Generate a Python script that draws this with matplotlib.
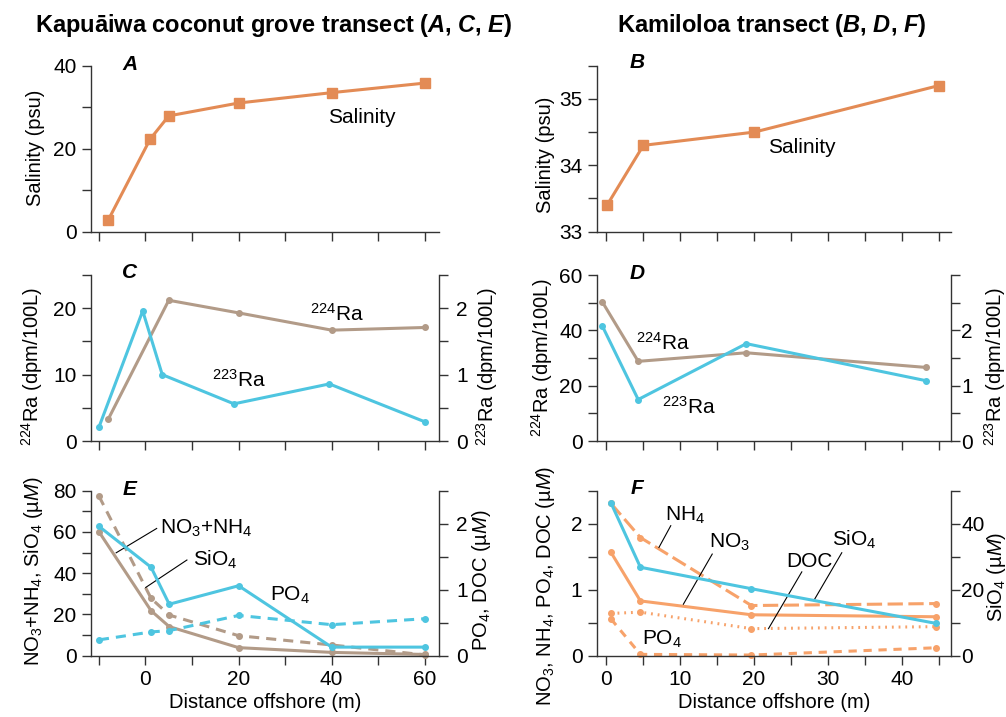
import matplotlib
matplotlib.use('Agg')
import matplotlib.pyplot as plt
from matplotlib.ticker import FixedLocator, NullFormatter

plt.rcParams['font.family'] = ['Liberation Sans', 'DejaVu Sans']
plt.rcParams['mathtext.fontset'] = 'custom'
plt.rcParams['mathtext.rm'] = 'Liberation Sans'
plt.rcParams['mathtext.it'] = 'Liberation Sans:italic'
plt.rcParams['mathtext.bf'] = 'Liberation Sans:bold'
plt.rcParams['mathtext.bfit'] = 'Liberation Sans:italic:bold'
plt.rcParams['mathtext.default'] = 'regular'

# --- data ---
# A: Kapuaiwa salinity
sal_a_x = [-8, 1, 5, 20, 40, 60]
sal_a = [2.8, 22.3, 27.9, 31.0, 33.5, 35.8]
# B: Kamiloloa salinity
sal_b_x = [0.2, 5.1, 20.1, 45.0]
sal_b = [33.4, 34.3, 34.5, 35.2]
# C: radium, Kapuaiwa
ra224_c_x = [-8, 5, 20, 40, 60]
ra224_c = [3.3, 21.2, 19.3, 16.7, 17.1]
ra223_c_x = [-10, -0.6, 3.6, 19, 39.5, 60]
ra223_c = [0.21, 1.96, 1.0, 0.56, 0.86, 0.29]
# D: radium, Kamiloloa
ra_d_x = [-0.45, 4.4, 19.0, 43.3]
ra224_d = [50.3, 28.8, 31.9, 26.6]
ra223_d = [2.08, 0.75, 1.76, 1.09]
# E: nutrients, Kapuaiwa
nut_e_x = [-10, 1.2, 5.1, 20, 40, 60]
no3nh4_e = [60.1, 21.8, 14.1, 3.9, 1.6, 0.6]
sio4_e = [77.4, 27.8, 19.7, 9.7, 5.2, 0.4]
po4_e = [1.96, 1.34, 0.78, 1.06, 0.13, 0.13]
doc_e = [0.24, 0.36, 0.38, 0.61, 0.47, 0.56]
# F: nutrients, Kamiloloa
nut_f_x = [0.7, 4.7, 19.7, 44.6]
sio4_f = [46.4, 26.8, 20.3, 9.8]
nh4_f = [2.31, 1.79, 0.76, 0.79]
no3_f = [1.57, 0.83, 0.62, 0.59]
doc_f = [0.64, 0.66, 0.41, 0.44]
po4_f = [0.56, 0.02, 0.01, 0.12]

ORANGE = '#E38B55'
TAN = '#B29B88'
CYAN = '#4EC5E0'
PEACH = '#F7A26A'
INK = '#333333'
FS = 15      # tick labels and in-plot labels
LFS = 14.5   # axis titles
LW = 2.2

fig = plt.figure(figsize=(10.06, 7.17), dpi=100)

LEFT = (0.0905, 0.3456)
RIGHT = (0.5934, 0.3519)
ROWS = [(0.6769, 0.2315), (0.3849, 0.2315), (0.0855, 0.2301)]

XL = dict(lim=(-11.7, 63.0), maj=[0, 20, 40, 60], mn=[-10, 10, 30, 50])
XR = dict(lim=(-1.17, 46.65), maj=[0, 10, 20, 30, 40], mn=[5, 15, 25, 35, 45])


def setup(ax, xs, ylim, ymaj, ymin, xlabels=False, side='left', pad=4):
    ax.set_xlim(xs['lim'])
    ax.set_ylim(ylim)
    if side == 'left':
        # twin axes share the x tickers, so only set them once
        ax.xaxis.set_major_locator(FixedLocator(xs['maj']))
        ax.xaxis.set_minor_locator(FixedLocator(xs['mn']))
        if not xlabels:
            ax.xaxis.set_major_formatter(NullFormatter())
    ax.yaxis.set_major_locator(FixedLocator(ymaj))
    ax.yaxis.set_minor_locator(FixedLocator(ymin))
    for s in ['top', 'right', 'left', 'bottom']:
        ax.spines[s].set_color(INK)
        ax.spines[s].set_linewidth(1.0)
    ax.spines['top'].set_visible(False)
    if side == 'left':
        ax.spines['right'].set_visible(False)
    else:
        ax.spines['left'].set_visible(False)
        ax.spines['bottom'].set_visible(False)
    ax.tick_params(which='both', direction='out', length=6.5, width=1.0,
                   color=INK, labelsize=FS, pad=pad)
    ax.patch.set_visible(False)


def panel(col, row):
    x0, w = col
    b, h = ROWS[row]
    return fig.add_axes([x0, b, w, h])


def letter(ax, s, x, y=1.01):
    ax.text(x, y, s, transform=ax.transAxes, fontsize=15, fontweight='bold',
            fontstyle='italic', ha='center', va='center')


def lead(ax, x1, y1, x2, y2):
    ax.plot([x1, x2], [y1, y2], color='black', lw=0.8)


# ---------- A ----------
axA = panel(LEFT, 0)
setup(axA, XL, (0, 40), [0, 20, 40], [10, 30])
axA.plot(sal_a_x, sal_a, color=ORANGE, lw=LW, marker='s', ms=6.5, clip_on=False)
axA.text(39.2, 27.5, 'Salinity', fontsize=FS, va='center')
axA.set_ylabel('Salinity (psu)', fontsize=LFS)
axA.yaxis.set_label_coords(-0.131, 0.504)
letter(axA, 'A', 0.112)

# ---------- B ----------
axB = panel(RIGHT, 0)
setup(axB, XR, (33, 35.5), [33, 34, 35], [33.5, 34.5, 35.5])
axB.plot(sal_b_x, sal_b, color=ORANGE, lw=LW, marker='s', ms=6.5, clip_on=False)
axB.text(22.0, 34.27, 'Salinity', fontsize=FS, va='center')
axB.set_ylabel('Salinity (psu)', fontsize=LFS)
axB.yaxis.set_label_coords(-0.118, 0.46)
letter(axB, 'B', 0.113, 1.02)

# ---------- C ----------
axC = panel(LEFT, 1)
setup(axC, XL, (0, 25), [0, 10, 20], [5, 15, 25])
axC.plot(ra224_c_x, ra224_c, color=TAN, lw=LW, marker='o', ms=4, clip_on=False)
axC.set_ylabel('$^{224}$Ra (dpm/100L)', fontsize=LFS)
axC.yaxis.set_label_coords(-0.131, 0.45)
axC2 = axC.twinx()
setup(axC2, XL, (0, 2.5), [0, 1, 2], [0.5, 1.5, 2.5], side='right', pad=6)
axC2.plot(ra223_c_x, ra223_c, color=CYAN, lw=LW, marker='o', ms=4, clip_on=False)
axC2.set_ylabel('$^{223}$Ra (dpm/100L)', fontsize=LFS)
axC2.yaxis.set_label_coords(1.103, 0.45)
axC.text(35.4, 18.1, '$^{224}$Ra', fontsize=FS, va='baseline')
axC.text(14.3, 8.1, '$^{223}$Ra', fontsize=FS, va='baseline')
letter(axC, 'C', 0.112, 1.018)

# ---------- D ----------
axD = panel(RIGHT, 1)
setup(axD, XR, (0, 60), [0, 20, 40, 60], [10, 30, 50])
axD.plot(ra_d_x, ra224_d, color=TAN, lw=LW, marker='o', ms=4, clip_on=False)
axD.set_ylabel('$^{224}$Ra (dpm/100L)', fontsize=LFS)
axD.yaxis.set_label_coords(-0.118, 0.506)
axD2 = axD.twinx()
setup(axD2, XR, (0, 3), [0, 1, 2], [0.5, 1.5, 2.5, 3.0], side='right', pad=1)
axD2.plot(ra_d_x, ra223_d, color=CYAN, lw=LW, marker='o', ms=4, clip_on=False)
axD2.set_ylabel('$^{223}$Ra (dpm/100L)', fontsize=LFS)
axD2.yaxis.set_label_coords(1.088, 0.45)
axD.text(4.1, 32.8, '$^{224}$Ra', fontsize=FS, va='baseline')
axD.text(7.6, 10.0, '$^{223}$Ra', fontsize=FS, va='baseline')
letter(axD, 'D', 0.113, 1.012)

# ---------- E ----------
axE = panel(LEFT, 2)
setup(axE, XL, (0, 80), [0, 20, 40, 60, 80], [10, 30, 50, 70], xlabels=True)
axE.plot(nut_e_x, no3nh4_e, color=TAN, lw=LW, marker='o', ms=4, clip_on=False)
axE.plot(nut_e_x, sio4_e, color=TAN, lw=LW, marker='o', ms=4, clip_on=False,
         dashes=(3.3, 2.3))
axE.set_ylabel('NO$_3$+NH$_4$, SiO$_4$ (µ$\\mathit{M}$)', fontsize=LFS)
axE.yaxis.set_label_coords(-0.131, 0.509)
axE.set_xlabel('Distance offshore (m)', fontsize=LFS, labelpad=3)
axE2 = axE.twinx()
setup(axE2, XL, (0, 2.5), [0, 1, 2], [0.5, 1.5, 2.5], side='right', pad=6)
axE2.plot(nut_e_x, po4_e, color=CYAN, lw=LW, marker='o', ms=4, clip_on=False)
axE2.plot(nut_e_x, doc_e, color=CYAN, lw=LW, marker='o', ms=4, clip_on=False,
          dashes=(3.3, 2.3))
axE2.set_ylabel('PO$_4$, DOC (µ$\\mathit{M}$)', fontsize=LFS)
axE2.yaxis.set_label_coords(1.089, 0.459)
axE.text(3.1, 61.7, 'NO$_3$+NH$_4$', fontsize=FS, va='center')
lead(axE, 2.4, 61.7, -6.3, 49.9)
axE.text(10.2, 46.4, 'SiO$_4$', fontsize=FS, va='center')
lead(axE, 8.9, 46.4, 0.05, 33.1)
axE.text(26.8, 29.4, 'PO$_4$', fontsize=FS, va='center')
letter(axE, 'E', 0.112, 1.01)

# ---------- F ----------
axF = panel(RIGHT, 2)
setup(axF, XR, (0, 2.5), [0, 1, 2], [0.5, 1.5, 2.5], xlabels=True)
axF.plot(nut_f_x, nh4_f, color=PEACH, lw=LW, marker='o', ms=4, clip_on=False,
         dashes=(5, 1.8))
axF.plot(nut_f_x, no3_f, color=PEACH, lw=LW, marker='o', ms=4, clip_on=False)
axF.plot(nut_f_x, doc_f, color=PEACH, lw=LW, marker='o', ms=4, clip_on=False,
         dashes=(0.6, 1.6))
axF.plot(nut_f_x, po4_f, color=PEACH, lw=LW, marker='o', ms=4, clip_on=False,
         dashes=(2.7, 2.2))
axF.set_ylabel('NO$_3$, NH$_4$, PO$_4$, DOC (µ$\\mathit{M}$)', fontsize=LFS)
axF.yaxis.set_label_coords(-0.112, 0.424)
axF.set_xlabel('Distance offshore (m)', fontsize=LFS, labelpad=3)
axF2 = axF.twinx()
setup(axF2, XR, (0, 50), [0, 20, 40], [10, 30, 50], side='right', pad=1)
axF2.plot(nut_f_x, sio4_f, color=CYAN, lw=LW, marker='o', ms=4, clip_on=False)
axF2.set_ylabel('SiO$_4$ (µ$\\mathit{M}$)', fontsize=LFS)
axF2.yaxis.set_label_coords(1.095, 0.48)
axF.text(8.0, 2.05, 'NH$_4$', fontsize=FS, va='baseline')
lead(axF, 8.8, 1.97, 7.2, 1.64)
axF.text(14.0, 1.64, 'NO$_3$', fontsize=FS, va='baseline')
lead(axF, 14.4, 1.54, 10.5, 0.78)
axF.text(24.4, 1.35, 'DOC', fontsize=FS, va='baseline')
lead(axF, 26.5, 1.27, 22.0, 0.41)
axF.text(30.6, 1.66, 'SiO$_4$', fontsize=FS, va='baseline')
lead(axF, 31.9, 1.56, 28.2, 0.85)
axF.text(4.9, 0.17, 'PO$_4$', fontsize=FS, va='baseline')
letter(axF, 'F', 0.113, 1.016)

# ---------- column titles ----------
fig.text(0.272, 0.965,
         'Kapuāiwa coconut grove transect ($\\mathbfit{A}$, $\\mathbfit{C}$, $\\mathbfit{E}$)',
         fontweight='bold', fontsize=17, ha='center', va='center')
fig.text(0.767, 0.965,
         'Kamiloloa transect ($\\mathbfit{B}$, $\\mathbfit{D}$, $\\mathbfit{F}$)',
         fontweight='bold', fontsize=17, ha='center', va='center')

fig.savefig('out.png', dpi=100)
